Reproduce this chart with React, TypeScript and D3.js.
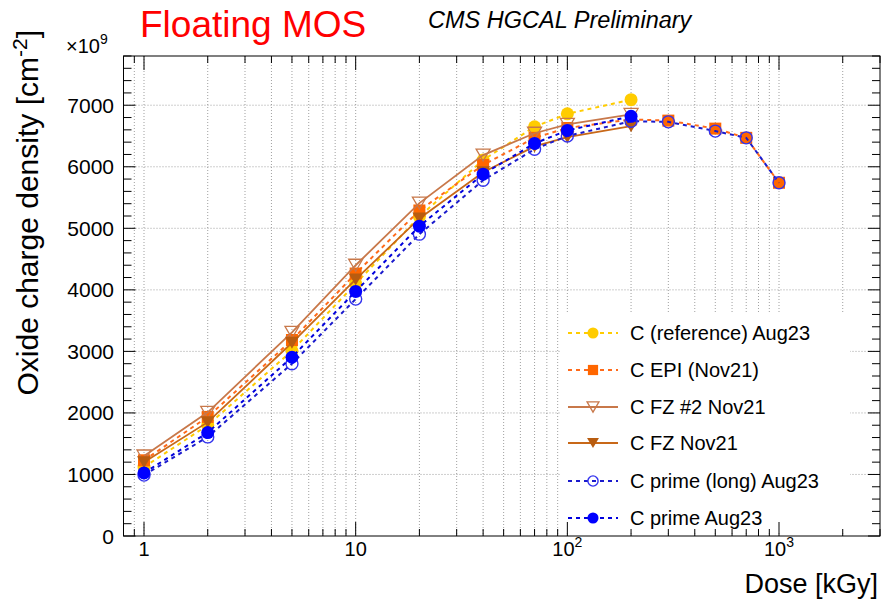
import React from "react";
import * as d3 from "d3";

const doses = [1, 2, 5, 10, 20, 40, 70, 100, 200, 300, 500, 700, 1000];
const refAug23 = [1120, 1800, 3010, 4100, 5190, 6110, 6650, 6860, 7090];
const epiNov21 = [1230, 1935, 3185, 4265, 5290, 6030, 6470, 6630, 6770, 6750, 6620, 6470, 5740];
const fz2Nov21 = [1300, 2010, 3310, 4400, 5410, 6190, 6545, 6690, 6850];
const fzNov21 = [1200, 1850, 3140, 4170, 5160, 5910, 6330, 6480, 6660];
const primeLongAug23 = [990, 1610, 2800, 3850, 4905, 5780, 6285, 6500, 6740, 6730, 6580, 6470, 5740];
const primeAug23 = [1025, 1680, 2905, 3975, 5035, 5880, 6380, 6590, 6820];

const yTicks = [0, 1000, 2000, 3000, 4000, 5000, 6000, 7000];
const xMajor = [1, 10, 100, 1000];
const xLabels = [["1", ""], ["10", ""], ["10", "2"], ["10", "3"]];

type Marker = "circle" | "square" | "triDownOpen" | "triDown" | "circleOpen";
interface Series {
  name: string;
  values: number[];
  color: string;
  markerColor: string;
  marker: Marker;
  dashed: boolean;
}

const series: Series[] = [
  { name: "C (reference) Aug23", values: refAug23, color: "#FFCC00", markerColor: "#FFCC00", marker: "circle", dashed: true },
  { name: "C EPI (Nov21)", values: epiNov21, color: "#FF6A1A", markerColor: "#FF6600", marker: "square", dashed: true },
  { name: "C FZ #2 Nov21", values: fz2Nov21, color: "#C8784A", markerColor: "#C8784A", marker: "triDownOpen", dashed: false },
  { name: "C FZ Nov21", values: fzNov21, color: "#C86818", markerColor: "#B85C10", marker: "triDown", dashed: false },
  { name: "C prime (long) Aug23", values: primeLongAug23, color: "#1A1ACC", markerColor: "#3333EE", marker: "circleOpen", dashed: true },
  { name: "C prime Aug23", values: primeAug23, color: "#0000DD", markerColor: "#0000FF", marker: "circle", dashed: true },
];

const FONT = "'Liberation Sans', Arial, Helvetica, sans-serif";
const L = 123.5, R = 880, T = 56, B = 536;

function MarkerShape({ type, x, y, color, small }: { type: Marker; x: number; y: number; color: string; small?: boolean }) {
  const s = small ? 0.85 : 1;
  switch (type) {
    case "circle":
      return <circle cx={x} cy={y} r={6.5 * s} fill={color} />;
    case "circleOpen":
      return <circle cx={x} cy={y} r={6 * s} fill="none" stroke={color} strokeWidth={1.4} />;
    case "square":
      return <rect x={x - 6 * s} y={y - 6 * s} width={12 * s} height={12 * s} fill={color} />;
    case "triDown":
      return <path d={`M${x - 7 * s},${y - 6 * s}L${x + 7 * s},${y - 6 * s}L${x},${y + 6 * s}Z`} fill={color} />;
    case "triDownOpen":
      return (
        <path
          d={`M${x - 7 * s},${y - 6 * s}L${x + 7 * s},${y - 6 * s}L${x},${y + 6 * s}Z`}
          fill="none"
          stroke={color}
          strokeWidth={1.3}
        />
      );
  }
}

export default function App() {
  const x = d3.scaleLog().domain([0.8, 3000]).range([L, R]);
  const y = d3.scaleLinear().domain([0, 7800]).range([B, T]);

  const xMinor: number[] = [0.9];
  for (const dec of [1, 10, 100, 1000]) {
    for (let k = 1; k <= 9; k++) {
      const v = dec * k;
      if (v <= 3000) xMinor.push(v);
    }
  }
  const yMinor = d3.range(0, 7801, 200);

  const line = d3
    .line<[number, number]>()
    .x((d) => x(d[0]))
    .y((d) => y(d[1]));

  const legendY = [333, 370, 407, 443, 481, 518];
  const gridStyle = { stroke: "#777", strokeWidth: 0.7, strokeDasharray: "1,2" };

  return (
    <svg width={882} height={604} style={{ position: "absolute", left: 0, top: 0, background: "#fff" }} fontFamily={FONT}>
      <rect x={0} y={0} width={882} height={604} fill="#fff" />
      {/* grid */}
      {xMinor.filter((v) => x(v) < R - 1).map((v, i) => (
        <line key={"gx" + i} x1={x(v)} x2={x(v)} y1={T} y2={B} {...gridStyle} />
      ))}
      {yTicks.filter((v) => v > 0).map((v) => (
        <line key={"gy" + v} x1={L} x2={R} y1={y(v)} y2={y(v)} {...gridStyle} />
      ))}

      {/* series */}
      {series.map((s, si) => {
        const pts: [number, number][] = s.values.map((v, i) => [doses[i], v]);
        return (
          <g key={"s" + si}>
            <path
              d={line(pts) || ""}
              fill="none"
              stroke={s.color}
              strokeWidth={s.dashed ? 2 : 1.8}
              strokeDasharray={s.dashed ? "4,4" : undefined}
            />
            {pts.map((p, i) => (
              <MarkerShape key={i} type={s.marker} x={x(p[0])} y={y(p[1])} color={s.markerColor} />
            ))}
          </g>
        );
      })}

      {/* legend */}
      <rect x={560} y={313} width={290} height={218} fill="#fff" />
      {series.map((s, i) => (
        <g key={"l" + i}>
          <line
            x1={568}
            x2={618}
            y1={legendY[i]}
            y2={legendY[i]}
            stroke={s.color}
            strokeWidth={s.dashed ? 2 : 1.8}
            strokeDasharray={s.dashed ? "4,4" : undefined}
          />
          <MarkerShape type={s.marker} x={593} y={legendY[i]} color={s.markerColor} small />
          <text x={630} y={legendY[i]} dy="0.36em" fontSize={20} fill="#000">
            {s.name}
          </text>
        </g>
      ))}

      {/* frame */}
      <rect x={L} y={T} width={R - L} height={B - T} fill="none" stroke="#000" strokeWidth={1} />

      {/* x ticks */}
      {xMinor.map((v, i) => {
        const major = xMajor.includes(v);
        const len = major ? 14 : 7;
        return (
          <g key={"xt" + i} stroke="#000" strokeWidth={1}>
            <line x1={x(v)} x2={x(v)} y1={B} y2={B - len} />
            <line x1={x(v)} x2={x(v)} y1={T} y2={T + len} />
          </g>
        );
      })}
      {/* y ticks */}
      {yMinor.map((v) => {
        const major = v % 1000 === 0;
        const len = major ? 12 : 8;
        return (
          <g key={"yt" + v} stroke="#000" strokeWidth={1}>
            <line x1={L} x2={L + len} y1={y(v)} y2={y(v)} />
            <line x1={R} x2={R - len} y1={y(v)} y2={y(v)} />
          </g>
        );
      })}

      {/* y tick labels */}
      {yTicks.map((v) => (
        <text key={"yl" + v} x={114} y={y(v)} dy="0.36em" textAnchor="end" fontSize={21} fill="#000">
          {v}
        </text>
      ))}
      {/* x tick labels */}
      {xMajor.map((v, i) => (
        <text key={"xl" + v} x={x(v)} y={556} textAnchor="middle" fontSize={20} fill="#000">
          {xLabels[i][0]}
          {xLabels[i][1] && (
            <tspan dy={-9} fontSize={14}>
              {xLabels[i][1]}
            </tspan>
          )}
        </text>
      ))}

      {/* exponent */}
      <text x={66} y={53} fontSize={20} fill="#000">
        ×10
        <tspan dy={-9} fontSize={14}>9</tspan>
      </text>

      {/* axis titles */}
      <text x={878} y={593} textAnchor="end" fontSize={27} fill="#000">
        Dose [kGy]
      </text>
      <text transform="translate(38,30) rotate(-90)" textAnchor="end" fontSize={30} fill="#000">
        Oxide charge density [cm
        <tspan dy={-11} fontSize={21}>-2</tspan>
        <tspan dy={11}>]</tspan>
      </text>

      {/* titles */}
      <text x={140} y={37} fontSize={37} fill="#FF0000">
        Floating MOS
      </text>
      <text x={428} y={28} fontSize={23.5} fontStyle="italic" fill="#000">
        CMS HGCAL Preliminary
      </text>
    </svg>
  );
}
